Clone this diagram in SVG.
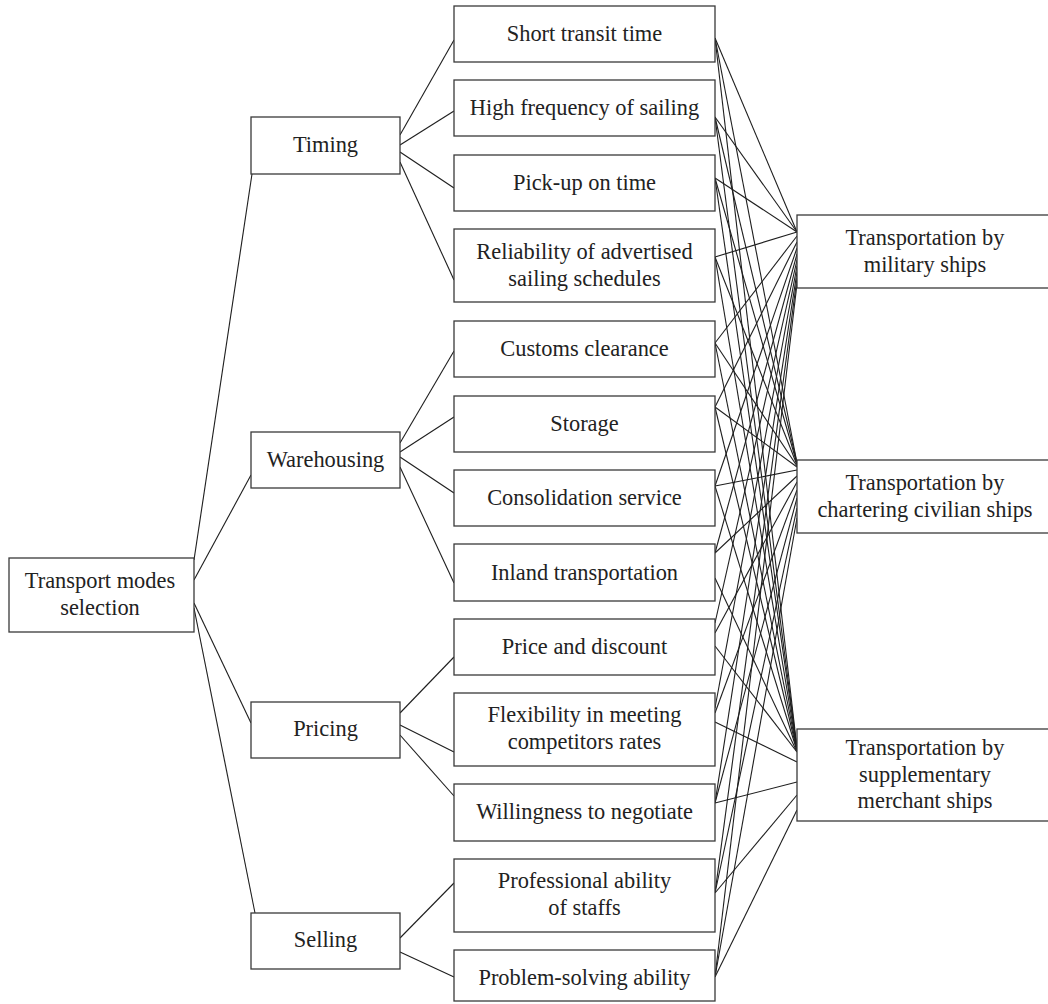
<svg xmlns="http://www.w3.org/2000/svg" width="1048" height="1004" viewBox="0 0 1048 1004">
<style>
.box{fill:#fff;stroke:#3a3a3a;stroke-width:1.3}
.t{font-family:"Liberation Serif","Times New Roman",serif;font-size:22.4px;fill:#222;text-anchor:middle}
.c line{stroke:#1e1e1e;stroke-width:1.1}
</style>
<rect width="1048" height="1004" fill="#fff"/>
<g id="connectors" class="c">
<!-- root to groups -->
<line x1="194" y1="560" x2="252" y2="174"/>
<line x1="194" y1="580" x2="251" y2="475"/>
<line x1="194" y1="603" x2="251" y2="723"/>
<line x1="194" y1="608" x2="255" y2="913"/>
<!-- Timing -->
<line x1="400" y1="135" x2="454" y2="40"/>
<line x1="400" y1="145" x2="454" y2="111"/>
<line x1="400" y1="152" x2="454" y2="188"/>
<line x1="400" y1="162" x2="454" y2="280"/>
<!-- Warehousing -->
<line x1="400" y1="443" x2="454" y2="351"/>
<line x1="400" y1="452" x2="454" y2="417"/>
<line x1="400" y1="457" x2="454" y2="493"/>
<line x1="400" y1="467" x2="454" y2="583"/>
<!-- Pricing -->
<line x1="400" y1="713" x2="454" y2="657"/>
<line x1="400" y1="725" x2="454" y2="752"/>
<line x1="400" y1="735" x2="454" y2="796"/>
<!-- Selling -->
<line x1="400" y1="938" x2="454" y2="883"/>
<line x1="400" y1="952" x2="454" y2="977"/>
<!-- criteria to alternatives -->
<line x1="715" y1="38" x2="797" y2="232"/><line x1="715" y1="38" x2="797" y2="463"/><line x1="715" y1="38" x2="797" y2="748"/>
<line x1="715" y1="117" x2="797" y2="232"/><line x1="715" y1="117" x2="797" y2="463"/><line x1="715" y1="117" x2="797" y2="749"/>
<line x1="715" y1="178" x2="797" y2="232"/><line x1="715" y1="178" x2="797" y2="464"/><line x1="715" y1="178" x2="797" y2="749"/>
<line x1="715" y1="257" x2="797" y2="232"/><line x1="715" y1="257" x2="797" y2="465"/><line x1="715" y1="257" x2="797" y2="750"/>
<line x1="715" y1="343" x2="797" y2="236"/><line x1="715" y1="343" x2="797" y2="466"/><line x1="715" y1="343" x2="797" y2="750"/>
<line x1="715" y1="407" x2="797" y2="242"/><line x1="715" y1="407" x2="797" y2="467"/><line x1="715" y1="407" x2="797" y2="751"/>
<line x1="715" y1="486" x2="797" y2="248"/><line x1="715" y1="486" x2="797" y2="470"/><line x1="715" y1="486" x2="797" y2="751"/>
<line x1="715" y1="553" x2="797" y2="254"/><line x1="715" y1="553" x2="797" y2="476"/><line x1="715" y1="578" x2="797" y2="752"/>
<line x1="715" y1="623" x2="797" y2="260"/><line x1="715" y1="633" x2="797" y2="482"/><line x1="715" y1="646" x2="797" y2="752"/>
<line x1="715" y1="708" x2="797" y2="266"/><line x1="715" y1="713" x2="797" y2="490"/><line x1="715" y1="722" x2="797" y2="762"/>
<line x1="715" y1="803" x2="797" y2="272"/><line x1="715" y1="803" x2="797" y2="498"/><line x1="715" y1="803" x2="797" y2="782"/>
<line x1="715" y1="893" x2="797" y2="278"/><line x1="715" y1="893" x2="797" y2="508"/><line x1="715" y1="893" x2="797" y2="795"/>
<line x1="715" y1="977" x2="797" y2="284"/><line x1="715" y1="977" x2="797" y2="518"/><line x1="715" y1="977" x2="797" y2="810"/>
</g>
<g id="root"><rect class="box" x="9" y="558" width="185" height="74"/><text class="t" x="100" y="588">Transport modes</text><text class="t" x="100" y="615">selection</text></g>
<g id="timing"><rect class="box" x="251" y="117" width="149" height="57"/><text class="t" x="325.5" y="152">Timing</text></g>
<g id="warehousing"><rect class="box" x="251" y="432" width="149" height="56"/><text class="t" x="325.5" y="467">Warehousing</text></g>
<g id="pricing"><rect class="box" x="251" y="702" width="149" height="56"/><text class="t" x="325.5" y="736">Pricing</text></g>
<g id="selling"><rect class="box" x="251" y="913" width="149" height="56"/><text class="t" x="325.5" y="947">Selling</text></g>
<g id="c1"><rect class="box" x="454" y="6" width="261" height="56"/><text class="t" x="584.5" y="41">Short transit time</text></g>
<g id="c2"><rect class="box" x="454" y="80" width="261" height="56"/><text class="t" x="584.5" y="115">High frequency of sailing</text></g>
<g id="c3"><rect class="box" x="454" y="155" width="261" height="56"/><text class="t" x="584.5" y="190">Pick-up on time</text></g>
<g id="c4"><rect class="box" x="454" y="229" width="261" height="73"/><text class="t" x="584.5" y="259">Reliability of advertised</text><text class="t" x="584.5" y="286">sailing schedules</text></g>
<g id="c5"><rect class="box" x="454" y="321" width="261" height="56"/><text class="t" x="584.5" y="356">Customs clearance</text></g>
<g id="c6"><rect class="box" x="454" y="396" width="261" height="56"/><text class="t" x="584.5" y="431">Storage</text></g>
<g id="c7"><rect class="box" x="454" y="470" width="261" height="56"/><text class="t" x="584.5" y="505">Consolidation service</text></g>
<g id="c8"><rect class="box" x="454" y="544" width="261" height="57"/><text class="t" x="584.5" y="580">Inland transportation</text></g>
<g id="c9"><rect class="box" x="454" y="619" width="261" height="56"/><text class="t" x="584.5" y="654">Price and discount</text></g>
<g id="c10"><rect class="box" x="454" y="693" width="261" height="73"/><text class="t" x="584.5" y="722">Flexibility in meeting</text><text class="t" x="584.5" y="749">competitors rates</text></g>
<g id="c11"><rect class="box" x="454" y="784" width="261" height="57"/><text class="t" x="584.5" y="819">Willingness to negotiate</text></g>
<g id="c12"><rect class="box" x="454" y="859" width="261" height="73"/><text class="t" x="584.5" y="888">Professional ability</text><text class="t" x="584.5" y="915">of staffs</text></g>
<g id="c13"><rect class="box" x="454" y="950" width="261" height="51"/><text class="t" x="584.5" y="985">Problem-solving ability</text></g>
<g id="military"><rect class="box" x="797" y="215" width="260" height="73"/><text class="t" x="925" y="245">Transportation by</text><text class="t" x="925" y="272">military ships</text></g>
<g id="chartering"><rect class="box" x="797" y="460" width="260" height="73"/><text class="t" x="925" y="490">Transportation by</text><text class="t" x="925" y="517">chartering civilian ships</text></g>
<g id="supplementary"><rect class="box" x="797" y="729" width="260" height="92"/><text class="t" x="925" y="755">Transportation by</text><text class="t" x="925" y="782">supplementary</text><text class="t" x="925" y="808">merchant ships</text></g>
</svg>
